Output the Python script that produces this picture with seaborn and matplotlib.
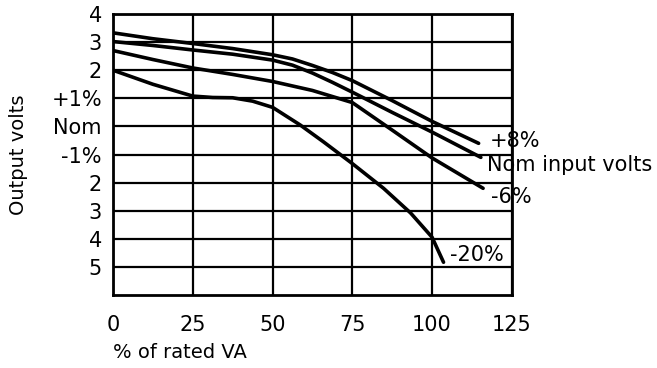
import numpy as np
import pandas as pd
import matplotlib
matplotlib.use("Agg")
import matplotlib.pyplot as plt
import seaborn as sns

# ---- data ----
plus8_x = [0, 12.5, 25, 37.5, 50, 56.25, 62.5, 68.75, 75, 87.5, 100, 114.6]
plus8_y = [3.33, 3.12, 2.95, 2.77, 2.55, 2.4, 2.17, 1.92, 1.63, 0.92, 0.18, -0.6]
nom_x = [0, 12.5, 25, 37.5, 50, 56.25, 62.5, 68.75, 75, 87.5, 100, 115.3]
nom_y = [3.02, 2.88, 2.72, 2.57, 2.36, 2.18, 1.9, 1.57, 1.22, 0.5, -0.2, -1.1]
minus6_x = [0, 12.5, 25, 37.5, 50, 62.5, 75, 87.5, 100, 116.0]
minus6_y = [2.7, 2.38, 2.08, 1.85, 1.6, 1.28, 0.85, -0.13, -1.12, -2.2]
minus20_x = [0, 12.5, 25, 31.25, 37.5, 43.75, 50, 58.7, 66, 75, 84.8, 93.3, 100, 103.6]
minus20_y = [2.0, 1.5, 1.08, 1.03, 1.02, 0.9, 0.68, 0.05, -0.55, -1.32, -2.2, -3.08, -3.94, -4.83]

series_names = ["+8%", "Nom input volts", "-6%", "-20%"]
ytick_vals = [4, 3, 2, 1, 0, -1, -2, -3, -4, -5]
ytick_labels = ["4", "3", "2", "+1%", "Nom", "-1%", "2", "3", "4", "5"]
xtick_vals = [0, 25, 50, 75, 100, 125]

rows = []
for name, xs, ys in zip(series_names,
                        [plus8_x, nom_x, minus6_x, minus20_x],
                        [plus8_y, nom_y, minus6_y, minus20_y]):
    for x, y in zip(xs, ys):
        rows.append({"load": x, "volts": y, "curve": name})
df = pd.DataFrame(rows)

sns.set_theme(style="white")
plt.rcParams["font.family"] = ["DejaVu Sans"]

fig = plt.figure(figsize=(6.57, 3.68), dpi=100)
ax = fig.add_axes([0.172, 0.198, 0.607, 0.764])

sns.lineplot(data=df, x="load", y="volts", hue="curve", estimator=None,
             sort=False, palette=["black"] * 4, linewidth=2.6, legend=False,
             ax=ax, zorder=3)
for line in ax.lines:
    line.set_solid_joinstyle("round")
    line.set_solid_capstyle("round")

ax.set_xlim(0, 125)
ax.set_ylim(-6, 4)
ax.set_xticks(xtick_vals)
ax.set_xticklabels([str(v) for v in xtick_vals], fontsize=15)
ax.set_yticks(ytick_vals)
ax.set_yticklabels(ytick_labels, fontsize=15)
ax.tick_params(axis="both", length=0, colors="black")
ax.tick_params(axis="x", pad=14)
ax.tick_params(axis="y", pad=8)

ax.grid(True, color="black", linewidth=1.6)
for s in ax.spines.values():
    s.set_color("black")
    s.set_linewidth(2)

ax.set_xlabel("% of rated VA", fontsize=14, loc="left", color="black", labelpad=6)
ax.set_ylabel("Output volts", fontsize=14, color="black", labelpad=17)

label_pos = {"+8%": (118.0, -0.5), "Nom input volts": (117.3, -1.37),
             "-6%": (118.5, -2.5), "-20%": (105.5, -4.58)}
for name in series_names:
    x, y = label_pos[name]
    ax.text(x, y, name, fontsize=15, va="center", ha="left", color="black",
            clip_on=False)

fig.savefig("out.png", dpi=100)
